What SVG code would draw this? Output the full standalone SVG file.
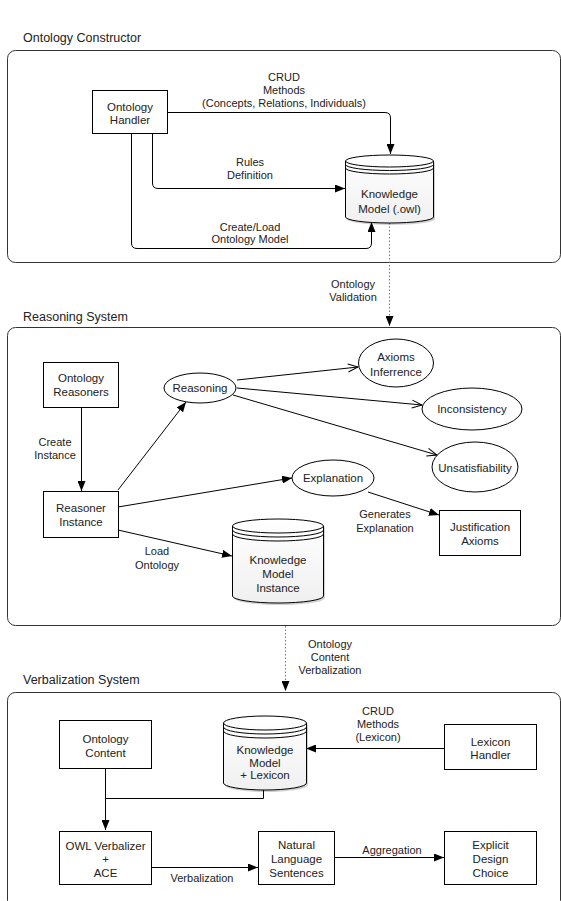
<svg xmlns="http://www.w3.org/2000/svg" width="561" height="901" viewBox="0 0 561 901">
<style>
.bg{fill:#fff}
.cont{fill:none;stroke:#333;stroke-width:1}
.box{fill:#fff;stroke:#000;stroke-width:1}
.cyl{fill:url(#cg);stroke:#000;stroke-width:1}
.cylline{fill:none;stroke:#000;stroke-width:1}
.shadow{fill:#000;opacity:0.18}
.edge{fill:none;stroke:#000;stroke-width:1}
.dot{fill:none;stroke:#777;stroke-width:1;stroke-dasharray:1.5 2}
text{font-family:"Liberation Sans",Arial,sans-serif;fill:#222}
.t{font-size:11.5px;text-anchor:middle}
.l{font-size:11px;text-anchor:middle}
.title{font-size:12.5px}
</style>
<defs>
<linearGradient id="cg" x1="0" y1="0" x2="0" y2="1">
<stop offset="0" stop-color="#ffffff"/>
<stop offset="1" stop-color="#f0f0f0"/>
</linearGradient>
<marker id="arr" viewBox="0 0 10 8" refX="10" refY="4" markerWidth="10" markerHeight="8" markerUnits="userSpaceOnUse" orient="auto"><path d="M0,0 L10,4 L0,8 Z" fill="#000"/></marker>
<marker id="open" viewBox="0 0 12 10" refX="11" refY="5" markerWidth="12" markerHeight="10" markerUnits="userSpaceOnUse" orient="auto"><path d="M1,1 L11,5 L1,9" fill="none" stroke="#000" stroke-width="1"/></marker>
</defs>
<rect class="bg" x="0" y="0" width="561" height="901"/>

<!-- Containers -->
<g id="ontology-constructor">
<text class="title" x="23" y="42">Ontology Constructor</text>
<rect class="cont" x="7.5" y="50.5" width="553" height="212" rx="8"/>
</g>
<g id="reasoning-system">
<text class="title" x="23" y="321">Reasoning System</text>
<rect class="cont" x="7.5" y="327.5" width="553" height="298" rx="8"/>
</g>
<g id="verbalization-system">
<text class="title" x="23" y="684">Verbalization System</text>
<rect class="cont" x="7.5" y="692.5" width="553" height="216" rx="8"/>
</g>

<!-- Connectors -->
<g id="connectors">
<path class="edge" d="M167,112.5 H385 Q390.5,112.5 390.5,118 V154" marker-end="url(#arr)"/>
<path class="edge" d="M152.5,133 V183 Q152.5,188.5 158,188.5 H345" marker-end="url(#arr)"/>
<path class="edge" d="M131.5,133 V243 Q131.5,248.5 137,248.5 H366 Q371.5,248.5 371.5,243 V222" marker-end="url(#arr)"/>
<path class="dot" d="M389.5,223 V326" marker-end="url(#arr)"/>

<path class="edge" d="M81.5,407 V491" marker-end="url(#arr)"/>
<path class="edge" d="M118,490 L186,402" marker-end="url(#arr)"/>
<path class="edge" d="M237,380 L358,367" marker-end="url(#open)"/>
<path class="edge" d="M237,388 L422,405" marker-end="url(#open)"/>
<path class="edge" d="M233,395 L437,455" marker-end="url(#open)"/>
<path class="edge" d="M118,507 L292,478" marker-end="url(#arr)"/>
<path class="edge" d="M368,492 L439,515" marker-end="url(#arr)"/>
<path class="edge" d="M118,530 L232,556" marker-end="url(#arr)"/>
<path class="dot" d="M285.5,626 V691" marker-end="url(#arr)"/>

<path class="edge" d="M444,748.5 H306" marker-end="url(#arr)"/>
<path class="edge" d="M105.5,768 V830" marker-end="url(#arr)"/>
<path class="edge" d="M263.5,790 V798.5 H105.5"/>
<path class="edge" d="M151,867.5 H258" marker-end="url(#arr)"/>
<path class="edge" d="M334,857.5 H444" marker-end="url(#arr)"/>

<g id="edge-labels">
<text class="l" x="284" y="81">CRUD</text>
<text class="l" x="284" y="94">Methods</text>
<text class="l" x="284" y="107">(Concepts, Relations, Individuals)</text>
<text class="l" x="250" y="166">Rules</text>
<text class="l" x="250" y="179">Definition</text>
<text class="l" x="250" y="231">Create/Load</text>
<text class="l" x="250" y="243">Ontology Model</text>
<text class="l" x="353" y="288">Ontology</text>
<text class="l" x="353" y="301">Validation</text>
<text class="l" x="55" y="446">Create</text>
<text class="l" x="55" y="459">Instance</text>
<text class="l" x="385" y="518">Generates</text>
<text class="l" x="385" y="532">Explanation</text>
<text class="l" x="157" y="555">Load</text>
<text class="l" x="157" y="569">Ontology</text>
<text class="l" x="330" y="648">Ontology</text>
<text class="l" x="330" y="661">Content</text>
<text class="l" x="330" y="674">Verbalization</text>
<text class="l" x="378" y="715">CRUD</text>
<text class="l" x="378" y="728">Methods</text>
<text class="l" x="378" y="741">(Lexicon)</text>
<text class="l" x="202" y="882">Verbalization</text>
<text class="l" x="392" y="854">Aggregation</text>
</g>
</g>

<!-- Nodes: Ontology Constructor -->
<g id="ontology-handler">
<rect class="box" x="92.5" y="90.5" width="75" height="43"/>
<text class="t" x="130" y="111">Ontology</text>
<text class="t" x="130" y="124">Handler</text>
</g>
<g id="knowledge-model-owl">
<path class="shadow" d="M347,163 A44,6 0 0 1 435,163 L435,219 A44,6 0 0 1 347,219 Z"/>
<path class="cyl" d="M345.5,161 A44,6 0 0 1 433.5,161 L433.5,217 A44,6 0 0 1 345.5,217 Z"/>
<path class="cylline" d="M345.5,161 A44,6 0 0 0 433.5,161 M345.5,164.5 A44,6 0 0 0 433.5,164.5 M345.5,168 A44,6 0 0 0 433.5,168"/>
<text class="t" x="389.5" y="198">Knowledge</text>
<text class="t" x="389.5" y="213">Model (.owl)</text>
</g>

<!-- Nodes: Reasoning System -->
<g id="ontology-reasoners">
<rect class="box" x="43.5" y="362.5" width="75" height="45"/>
<text class="t" x="81" y="382">Ontology</text>
<text class="t" x="81" y="396">Reasoners</text>
</g>
<g id="reasoner-instance">
<rect class="box" x="43.5" y="491.5" width="75" height="46"/>
<text class="t" x="81" y="512">Reasoner</text>
<text class="t" x="81" y="526">Instance</text>
</g>
<g id="reasoning">
<ellipse class="box" cx="200" cy="388" rx="36" ry="15"/>
<text class="t" x="200" y="392">Reasoning</text>
</g>
<g id="axioms-inferrence">
<ellipse class="box" cx="396" cy="363" rx="37.5" ry="24"/>
<text class="t" x="396" y="361">Axioms</text>
<text class="t" x="396" y="376">Inferrence</text>
</g>
<g id="inconsistency">
<ellipse class="box" cx="472" cy="409" rx="50" ry="21"/>
<text class="t" x="472" y="413">Inconsistency</text>
</g>
<g id="unsatisfiability">
<ellipse class="box" cx="475" cy="467" rx="43" ry="25"/>
<text class="t" x="475" y="472">Unsatisfiability</text>
</g>
<g id="explanation">
<ellipse class="box" cx="333" cy="478" rx="41" ry="18"/>
<text class="t" x="333" y="482">Explanation</text>
</g>
<g id="justification-axioms">
<rect class="box" x="439.5" y="510.5" width="81" height="45"/>
<text class="t" x="480" y="531">Justification</text>
<text class="t" x="480" y="545">Axioms</text>
</g>
<g id="knowledge-model-instance">
<path class="shadow" d="M234,528 A45.5,7 0 0 1 325,528 L325,598 A45.5,7 0 0 1 234,598 Z"/>
<path class="cyl" d="M232.5,526 A45.5,7 0 0 1 323.5,526 L323.5,596 A45.5,7 0 0 1 232.5,596 Z"/>
<path class="cylline" d="M232.5,526 A45.5,7 0 0 0 323.5,526 M232.5,530 A45.5,7 0 0 0 323.5,530 M232.5,534 A45.5,7 0 0 0 323.5,534"/>
<text class="t" x="278" y="564">Knowledge</text>
<text class="t" x="278" y="578">Model</text>
<text class="t" x="278" y="592">Instance</text>
</g>

<!-- Nodes: Verbalization System -->
<g id="ontology-content">
<rect class="box" x="59.5" y="720.5" width="92" height="48"/>
<text class="t" x="105.5" y="743">Ontology</text>
<text class="t" x="105.5" y="757">Content</text>
</g>
<g id="knowledge-model-lexicon">
<path class="shadow" d="M225,725 A41.5,7 0 0 1 308,725 L308,785 A41.5,7 0 0 1 225,785 Z"/>
<path class="cyl" d="M223.5,723 A41.5,7 0 0 1 306.5,723 L306.5,783 A41.5,7 0 0 1 223.5,783 Z"/>
<path class="cylline" d="M223.5,723 A41.5,7 0 0 0 306.5,723 M223.5,727 A41.5,7 0 0 0 306.5,727 M223.5,731 A41.5,7 0 0 0 306.5,731"/>
<text class="t" x="265" y="754">Knowledge</text>
<text class="t" x="265" y="767">Model</text>
<text class="t" x="265" y="779">+ Lexicon</text>
</g>
<g id="lexicon-handler">
<rect class="box" x="444.5" y="724.5" width="92" height="45"/>
<text class="t" x="490.5" y="746">Lexicon</text>
<text class="t" x="490.5" y="759">Handler</text>
</g>
<g id="owl-verbalizer">
<rect class="box" x="59.5" y="831.5" width="92" height="53"/>
<text class="t" x="105.5" y="850">OWL Verbalizer</text>
<text class="t" x="105.5" y="863">+</text>
<text class="t" x="105.5" y="877">ACE</text>
</g>
<g id="natural-language-sentences">
<rect class="box" x="258.5" y="831.5" width="76" height="53"/>
<text class="t" x="296.5" y="849">Natural</text>
<text class="t" x="296.5" y="863">Language</text>
<text class="t" x="296.5" y="877">Sentences</text>
</g>
<g id="explicit-design-choice">
<rect class="box" x="444.5" y="831.5" width="92" height="53"/>
<text class="t" x="490.5" y="849">Explicit</text>
<text class="t" x="490.5" y="863">Design</text>
<text class="t" x="490.5" y="877">Choice</text>
</g>
</svg>
